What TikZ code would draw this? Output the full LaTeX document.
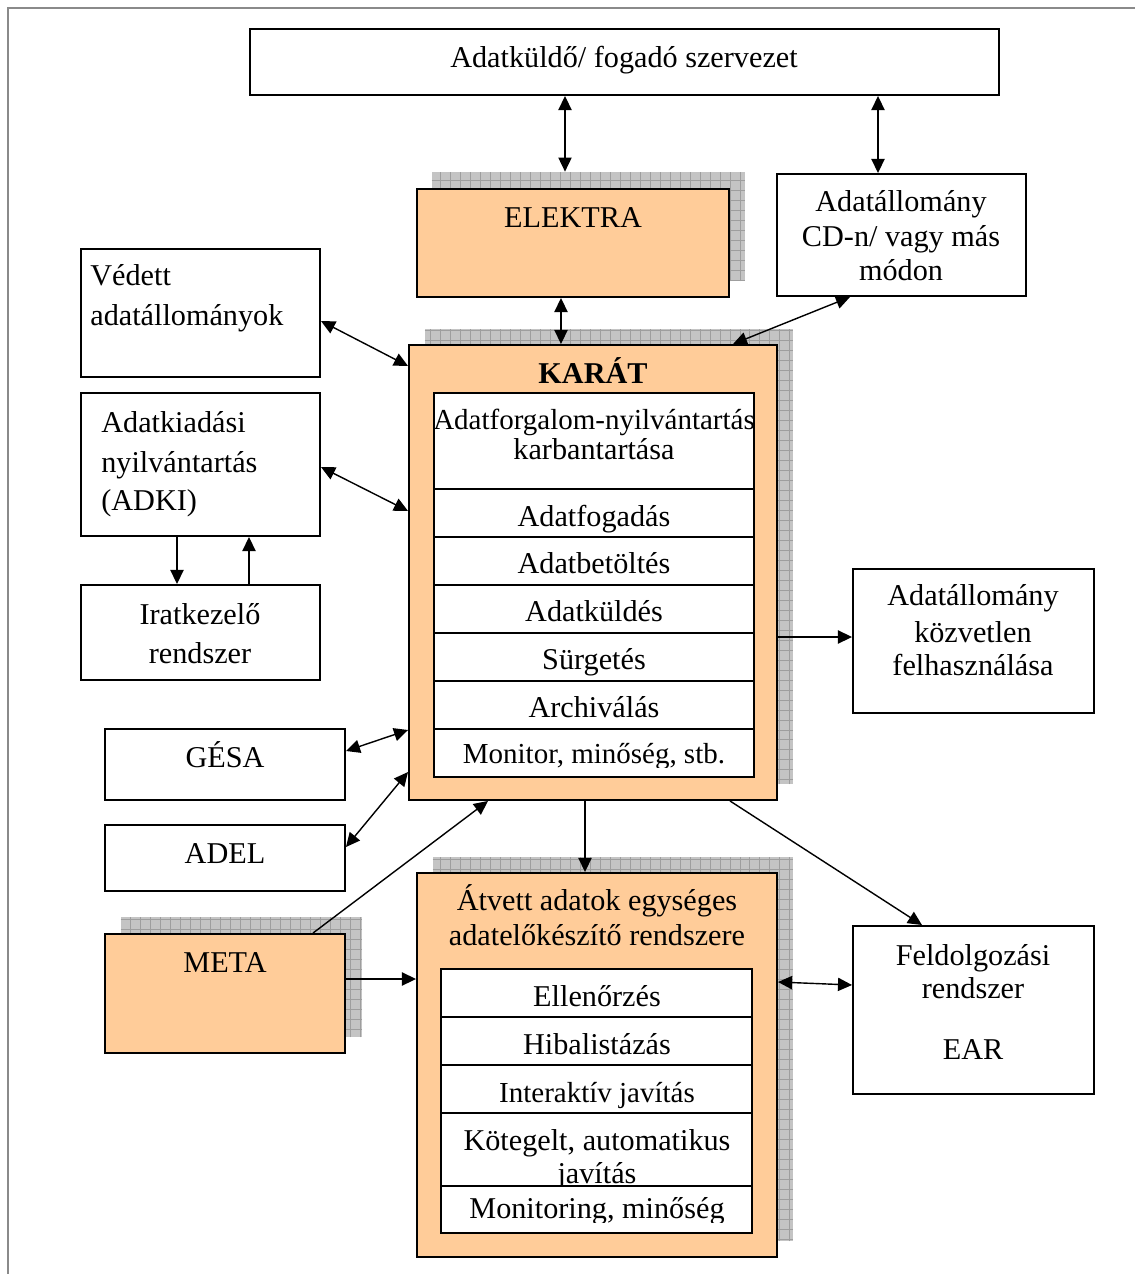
\documentclass[tikz,border=0pt]{standalone}
\usepackage{fontspec}
\setmainfont{Liberation Serif}
\usetikzlibrary{arrows.meta,fit}
\definecolor{peach}{HTML}{FFCC99}
\definecolor{shadowfill}{HTML}{C4C4C4}
\definecolor{shadowline}{HTML}{9E9E9E}
\definecolor{framecol}{HTML}{8A8A8A}

% hatched drop shadow as a named node
\newcommand\pshadow[3]{%
  \node[fill=shadowfill, inner sep=0pt, fit={(#2) (#3)}] (#1) {};
  \begin{scope}
    \clip (#1.south west) rectangle (#1.north east);
    \draw[shadowline, line width=0.4pt, step=0.2cm] (#1.south west) grid (#1.north east);
  \end{scope}}

\begin{document}
\begin{tikzpicture}[x=0.02cm, y=-0.02cm,
  box/.style={draw, line width=1.1pt, fill=white, inner sep=0pt},
  obox/.style={box, fill=peach},
  lbl/.style={anchor=base, inner sep=0pt, font=\fontsize{17.2}{19}\selectfont},
  lbls/.style={lbl, font=\fontsize{16.5}{19}\selectfont},
  lbll/.style={lbl, anchor=base west},
  hd/.tip={Triangle[length=8pt, width=7.5pt]},
  conn/.style={line width=0.8pt},
  both/.style={conn, hd-hd},
  one/.style={conn, -hd},
]
\useasboundingbox (0,0) rectangle (1135,1274);

% page frame
\draw[framecol, line width=1pt] (8,1274) -- (8,8) -- (1135,8);

% ---- boxes ----
\node[box, fit={(250,29) (999,95)}] (org) {};
\pshadow{elektrash}{432,172}{745,281}
\node[obox, fit={(417,189) (729,297)}] (elektra) {};
\node[box, fit={(777,174) (1026,296)}] (cd) {};
\node[box, fit={(81,249) (320,377)}] (vedett) {};
\node[box, fit={(81,393) (320,536)}] (adki) {};
\node[box, fit={(81,585) (320,680)}] (irat) {};
\pshadow{karatsh}{425,329}{793,784}
\node[obox, fit={(409,345) (777,800)}] (karat) {};
\node[box, fit={(853,569) (1094,713)}] (direct) {};
\node[box, fit={(105,729) (345,800)}] (gesa) {};
\node[box, fit={(105,825) (345,891)}] (adel) {};
\pshadow{metash}{121,917}{362,1037}
\node[obox, fit={(105,934) (345,1053)}] (meta) {};
\pshadow{atvettsh}{433,857}{793,1241}
\node[obox, fit={(417,873) (777,1257)}] (atvett) {};
\node[box, fit={(853,926) (1094,1094)}] (feld) {};

% ---- KARÁT inner table ----
\node[box, fit={(434,393) (754,489)}] (k1) {};
\node[box, fit={(434,489) (754,537)}] (k2) {};
\node[box, fit={(434,537) (754,585)}] (k3) {};
\node[box, fit={(434,585) (754,633)}] (k4) {};
\node[box, fit={(434,633) (754,681)}] (k5) {};
\node[box, fit={(434,681) (754,729)}] (k6) {};
\node[box, fit={(434,729) (754,777)}] (k7) {};

% ---- texts ----
\node[lbl] (torg) at (624,68) {Adatküldő/ fogadó szervezet};
\node[lbl] (telektra) at (573,227) {ELEKTRA};
\node[lbl] (tcd1) at (901,211) {Adatállomány};
\node[lbl] (tcd2) at (901,246) {CD-n/ vagy más};
\node[lbl] (tcd3) at (901,280) {módon};
\node[lbll] (tved1) at (90,285) {Védett};
\node[lbll] (tved2) at (90,325) {adatállományok};
\node[lbll] (tadki1) at (101,432) {Adatkiadási};
\node[lbll] (tadki2) at (101,472) {nyilvántartás};
\node[lbll] (tadki3) at (101,510) {(ADKI)};
\node[lbl] (tirat1) at (200,624) {Iratkezelő};
\node[lbl] (tirat2) at (200,663) {rendszer};
\node[lbl, font=\fontsize{17.2}{19}\selectfont\bfseries] (tkarat) at (593,383) {KARÁT};
\node[lbls] (tk1a) at (594,429) {Adatforgalom-nyilvántartás};
\node[lbl] (tk1b) at (594,459) {karbantartása};
\begin{scope}
  \clip (k2.north west) rectangle ([yshift=-0.06cm]k2.south east);
  \node[lbl] (tk2) at (594,526) {Adatfogadás};
\end{scope}
\node[lbl] (tk3) at (594,573) {Adatbetöltés};
\node[lbl] (tk4) at (594,621) {Adatküldés};
\node[lbl] (tk5) at (594,669) {Sürgetés};
\node[lbl] (tk6) at (594,717) {Archiválás};
\begin{scope}
  \clip (434,729) rectangle (754,767);
  \node[lbls] (tk7) at (594,763) {Monitor, minőség, stb.};
\end{scope}
\node[lbl] (tdir1) at (973,605) {Adatállomány};
\node[lbl] (tdir2) at (973,642) {közvetlen};
\node[lbl] (tdir3) at (973,675) {felhasználása};
\node[lbl] (tgesa) at (225,767) {GÉSA};
\node[lbl] (tadel) at (225,863) {ADEL};
\node[lbl] (tmeta) at (225,972) {META};
\node[lbl] (tat1) at (597,910) {Átvett adatok egységes};
\node[lbl] (tat2) at (597,945) {adatelőkészítő rendszere};
\node[lbl] (tfeld1) at (973,965) {Feldolgozási};
\node[lbl] (tfeld2) at (973,998) {rendszer};
\node[lbl] (tfeld3) at (973,1059) {EAR};

% ---- Átvett inner table ----
\node[box, fit={(441,969) (752,1017)}] (a1) {};
\node[lbl] (ta1) at (597,1006) {Ellenőrzés};
\node[box, fit={(441,1017) (752,1065)}] (a2) {};
\node[lbl] (ta2) at (597,1054) {Hibalistázás};
\node[box, fit={(441,1065) (752,1113)}] (a3) {};
\node[lbls] (ta3) at (597,1102) {Interaktív javítás};
\node[box, fit={(441,1113) (752,1186)}] (a4) {};
\node[lbl] (ta4a) at (597,1150) {Kötegelt, automatikus};
\node[lbl] (ta4b) at (597,1183) {javítás};
\node[box, fit={(441,1186) (752,1233)}] (a5) {};
\begin{scope}
  \clip (441,1186) rectangle (752,1222);
  \node[lbl] (ta5) at (597,1218) {Monitoring, minőség};
\end{scope}

% ---- connector guide positions ----
\coordinate (x565) at (565,0);
\coordinate (x878) at (878,0);
\coordinate (x561) at (561,0);
\coordinate (x850) at (850,0);
\coordinate (x733) at (733,0);
\coordinate (x177) at (177,0);
\coordinate (x249) at (249,0);
\coordinate (x313) at (313,0);
\coordinate (x488) at (488,0);
\coordinate (x585) at (585,0);
\coordinate (x730) at (730,0);
\coordinate (x922) at (922,0);
\coordinate (y321) at (0,321);
\coordinate (y366) at (0,366);
\coordinate (y467) at (0,467);
\coordinate (y511) at (0,511);
\coordinate (y751) at (0,751);
\coordinate (y730) at (0,730);
\coordinate (y847) at (0,847);
\coordinate (y772) at (0,772);
\coordinate (y979) at (0,979);
\coordinate (y637) at (0,637);
\coordinate (y982) at (0,982);
\coordinate (y985) at (0,985);

% ---- connectors ----
\draw[both] (org.south -| x565) -- (elektrash.north -| x565);
\draw[both] (org.south -| x878) -- (cd.north -| x878);
\draw[both] (elektra.south -| x561) -- (karat.north -| x561);
\draw[both] (cd.south -| x850) -- (karat.north -| x733);
\draw[both] (vedett.east |- y321) -- (karat.west |- y366);
\draw[both] (adki.east |- y467) -- (karat.west |- y511);
\draw[one] (adki.south -| x177) -- (irat.north -| x177);
\draw[one] (irat.north -| x249) -- (adki.south -| x249);
\draw[both] (gesa.east |- y751) -- (karat.west |- y730);
\draw[both] (adel.east |- y847) -- (karat.west |- y772);
\draw[one] (meta.north -| x313) -- (karat.south -| x488);
\draw[one] (meta.east |- y979) -- (atvett.west |- y979);
\draw[one] (karat.south -| x585) -- (atvett.north -| x585);
\draw[one] (karat.east |- y637) -- (direct.west |- y637);
\draw[one] (karat.south -| x730) -- (feld.north -| x922);
\draw[both] (atvett.east |- y982) -- (feld.west |- y985);
\end{tikzpicture}
\end{document}
